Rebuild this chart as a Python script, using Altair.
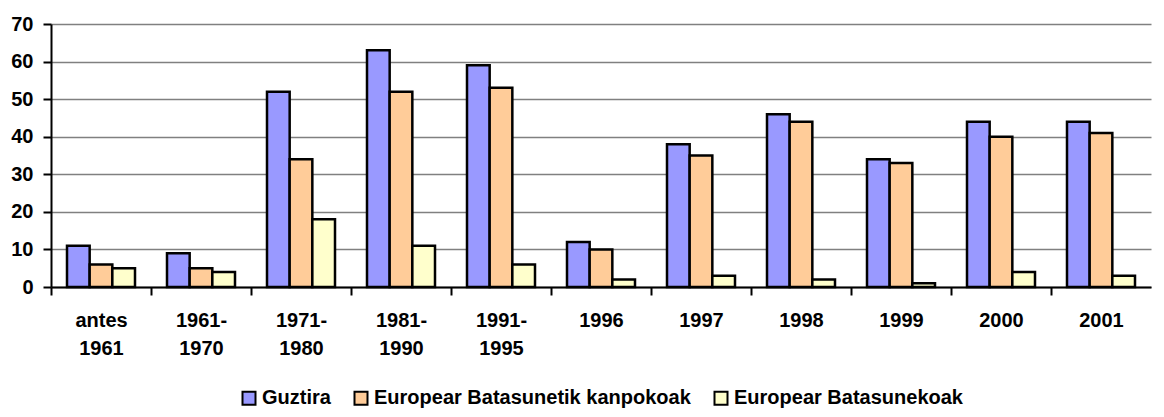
import altair as alt
import pandas as pd

categories = ["antes 1961", "1961-1970", "1971-1980", "1981-1990", "1991-1995",
              "1996", "1997", "1998", "1999", "2000", "2001"]
series = ["Guztira", "Europear Batasunetik kanpokoak", "Europear Batasunekoak"]
guztira = [11, 9, 52, 63, 59, 12, 38, 46, 34, 44, 44]
kanpokoak = [6, 5, 34, 52, 53, 10, 35, 44, 33, 40, 41]
batasunekoak = [5, 4, 18, 11, 6, 2, 3, 2, 1, 4, 3]
colors = ["#9999FF", "#FFCC99", "#FFFFCC"]
y_ticks = [0, 10, 20, 30, 40, 50, 60, 70]

rows = []
for name, vals in zip(series, [guztira, kanpokoak, batasunekoak]):
    for c, v in zip(categories, vals):
        rows.append({"cat": c, "series": name, "value": v})
df = pd.DataFrame(rows)

FONT = "Liberation Sans"
FS = 20
W = 1100
STEP = W / len(categories)

chart = alt.Chart(df).mark_bar(stroke="black", strokeWidth=2.5).encode(
    x=alt.X("cat:N", sort=categories, title=None,
            scale=alt.Scale(paddingInner=0.32, paddingOuter=0.16),
            axis=alt.Axis(domainColor="black", domainWidth=2,
                          tickColor="black", tickWidth=2, tickSize=8,
                          tickOffset=-STEP / 2, labelOffset=STEP / 2,
                          labelAngle=0, labelFont=FONT, labelFontSize=FS,
                          labelFontWeight="bold", labelColor="black",
                          labelPadding=15, labelLineHeight=28, grid=False,
                          labelExpr="indexof(datum.value, '-') > 0 ? [slice(datum.value, 0, 5), slice(datum.value, 5)] : split(datum.value, ' ')")),
    xOffset=alt.XOffset("series:N", sort=series,
                        scale=alt.Scale(paddingInner=0, paddingOuter=0)),
    y=alt.Y("value:Q", title=None, scale=alt.Scale(domain=[0, 70], nice=False),
            axis=alt.Axis(values=y_ticks, domainColor="black", domainWidth=2,
                          tickColor="black", tickWidth=2, tickSize=8,
                          labelFont=FONT, labelFontSize=FS, labelFontWeight="bold",
                          labelColor="black", labelPadding=10,
                          grid=True, gridColor="#808080", gridWidth=1.3)),
    color=alt.Color("series:N", sort=series,
                    scale=alt.Scale(domain=series, range=colors),
                    legend=alt.Legend(title=None, orient="none", direction="horizontal",
                                      legendX=188, legendY=364,
                                      symbolType="square", symbolSize=169,
                                      symbolStrokeColor="black", symbolStrokeWidth=2,
                                      symbolOpacity=1, labelLimit=0,
                                      labelFont=FONT, labelFontSize=FS,
                                      labelFontWeight="bold", labelColor="black",
                                      labelOffset=3, columnPadding=19)),
).properties(
    width=W, height=263,
    autosize=alt.AutoSizeParams(type="none"),
    padding={"left": 43, "top": 16, "right": 5, "bottom": 122},
).configure_view(stroke=None)

chart.save("out.html", embed_options={"renderer": "svg", "actions": False})
